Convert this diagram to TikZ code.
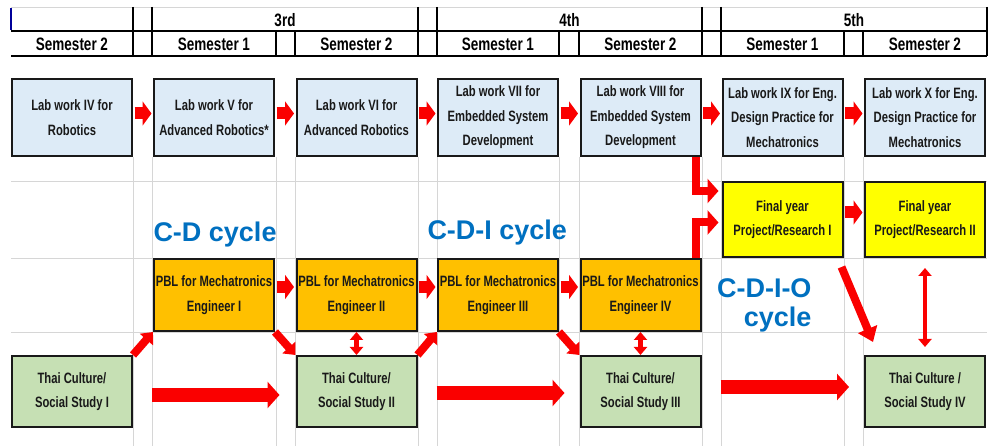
\documentclass[tikz,border=0pt]{standalone}
\usepackage{fontspec}
\setmainfont{Liberation Sans}
\newfontfamily\narrowfont[FakeStretch=0.75]{Liberation Sans}
\usepackage{tikz}
\usetikzlibrary{arrows.meta}
\usetikzlibrary{shapes}
\definecolor{labblue}{RGB}{221,235,247}
\definecolor{pblorange}{RGB}{255,192,0}
\definecolor{finalyellow}{RGB}{255,255,0}
\definecolor{thaigreen}{RGB}{198,224,180}
\definecolor{cycleblue}{RGB}{0,112,192}
\definecolor{gridgray}{RGB}{214,214,214}
\definecolor{arrowred}{RGB}{250,0,0}
\tikzstyle{course}=[rectangle, draw=black!90, line width=2pt, minimum width=120pt, inner sep=1pt, align=center, text=black!90, font=\narrowfont\bfseries\fontsize{15}{24.5}\selectfont]
\tikzstyle{labbox}=[course, fill=labblue, minimum height=77pt]
\tikzstyle{finalbox}=[course, fill=finalyellow, minimum height=75pt]
\tikzstyle{pblbox}=[course, fill=pblorange, minimum height=72pt]
\tikzstyle{thaibox}=[course, fill=thaigreen, minimum height=71pt]
\tikzstyle{headtext}=[inner sep=0pt, font=\narrowfont\bfseries\fontsize{18}{20}\selectfont]
\tikzstyle{cyclelabel}=[inner sep=0pt, text=cycleblue, font=\bfseries\fontsize{27}{29}\selectfont]
\tikzstyle{gridline}=[gridgray, line width=0.8pt]
\tikzstyle{steparrow}=[-{Triangle[width=24pt,length=9pt]}, line width=12pt, arrowred, shorten <=1.5pt, shorten >=1.5pt]
\tikzstyle{bigarrow}=[-{Triangle[width=26pt,length=12pt]}, line width=14pt, arrowred]
\tikzstyle{cornerarrow}=[-{Triangle[width=17pt,length=10pt]}, line width=8pt, arrowred]
\tikzstyle{elbowarrow}=[-{Triangle[width=24pt,length=11pt]}, line width=8pt, arrowred, shorten >=3pt]
\tikzstyle{linkarrow}=[{Triangle[width=13pt,length=8pt]}-{Triangle[width=13pt,length=8pt]}, line width=4.5pt, arrowred]
\tikzset{every picture/.style={
    line width=1
  }
}

\begin{document}
\begin{tikzpicture}[x=1pt, y=-1pt]
        \useasboundingbox (0,0) rectangle (989,446);
        % sheet grid
        \foreach \gx in {133,152,276,295,418,437,559,579,702,721,844,863}
          \draw[gridline] (\gx,157) -- (\gx,446);
        \foreach \gy in {181,258,332}
          \draw[gridline] (11,\gy) -- (987,\gy);
        % header
        \draw[gridline] (11,7) -- (987,7);
        \draw[line width=1.6pt] (11,31) -- (987,31);
        \draw[line width=2pt] (11,56) -- (987,56);
        \draw[blue!60!black, line width=1.5pt] (11,8) -- (11,30);
        \foreach \hx in {133,152,418,437,702,721,987}
          \draw[line width=1.3pt] (\hx,7) -- (\hx,31);
        \foreach \hx in {133,152,276,295,418,437,559,579,702,721,844,863,987}
          \draw[line width=1.3pt] (\hx,31) -- (\hx,56);
        \node[headtext] at (285,20.5) (year3) {3rd};
        \node[headtext] at (569.5,20.5) (year4) {4th};
        \node[headtext] at (854,20.5) (year5) {5th};
        \foreach \hx/\sem/\i in {72/2/a,214/1/b,356.5/2/c,498/1/d,640.5/2/e,782.5/1/f,925/2/g}
          \node[headtext] at (\hx,44.5) (sem\i) {Semester \sem};

        % lab work row
        \node[labbox] at (72,117.5) (lab4) {Lab work IV for\\Robotics};
        \node[labbox] at (214,117.5) (lab5) {Lab work V for\\Advanced Robotics*};
        \node[labbox] at (356.5,117.5) (lab6) {Lab work VI for\\Advanced Robotics};
        \node[labbox] at (498,117.5) (lab7) {Lab work VII for\\Embedded System\\Development};
        \node[labbox] at (640.5,117.5) (lab8) {Lab work VIII for\\Embedded System\\Development};
        \node[labbox] at (782.5,117.5) (lab9) {Lab work IX for Eng.\\Design Practice for\\Mechatronics};
        \node[labbox] at (925,117.5) (lab10) {Lab work X for Eng.\\Design Practice for\\Mechatronics};

        % final year project
        \node[finalbox] at (782.5,219.5) (final1) {Final year\\Project/Research I};
        \node[finalbox] at (925,219.5) (final2) {Final year\\Project/Research II};

        % PBL row
        \node[pblbox] at (214,295) (pbl1) {PBL for Mechatronics\\Engineer I};
        \node[pblbox] at (356.5,295) (pbl2) {PBL for Mechatronics\\Engineer II};
        \node[pblbox] at (498,295) (pbl3) {PBL for Mechatronics\\Engineer III};
        \node[pblbox] at (640.5,295) (pbl4) {PBL for Mechatronics\\Engineer IV};

        % thai culture row
        \node[thaibox] at (72,391.5) (thai1) {Thai Culture/\\Social Study I};
        \node[thaibox] at (356.5,391.5) (thai2) {Thai Culture/\\Social Study II};
        \node[thaibox] at (640.5,391.5) (thai3) {Thai Culture/\\Social Study III};
        \node[thaibox] at (925,391.5) (thai4) {Thai Culture /\\Social Study IV};

        % cycle labels
        \node[cyclelabel, anchor=west] at (153,235) (cd) {C-D cycle};
        \node[cyclelabel, anchor=west] at (427,233) (cdi) {C-D-I cycle};
        \node[cyclelabel, anchor=north east, align=right] at (812,278.5) (cdio) {C-D-I-O\\cycle};

        % arrows
        \foreach \a/\b in {lab4/lab5,lab5/lab6,lab6/lab7,lab7/lab8,lab8/lab9,lab9/lab10}
          \draw[steparrow] ([yshift=4pt]\a.east) -- ([yshift=4pt]\b.west);
        \foreach \a/\b in {pbl1/pbl2,pbl2/pbl3,pbl3/pbl4}
          \draw[steparrow] ([yshift=8pt]\a.east) -- ([yshift=8pt]\b.west);
        \draw[steparrow] ([yshift=7pt]final1.east) -- ([yshift=7pt]final2.west);

        \draw[cornerarrow] (thai1.north east) -- (pbl1.south west);
        \draw[cornerarrow] (pbl1.south east) -- (thai2.north west);
        \draw[cornerarrow] (thai2.north east) -- (pbl3.south west);
        \draw[cornerarrow] (pbl3.south east) -- (thai3.north west);

        \draw[linkarrow] (pbl2.south) -- (thai2.north);
        \draw[linkarrow] (pbl4.south) -- (thai3.north);
        \draw[linkarrow, shorten <=10pt, shorten >=8pt] (final2.south) -- (thai4.north);

        \draw[cornerarrow, -{Triangle[width=20pt,length=14pt]}] ([xshift=-2pt,yshift=-9pt]final1.south east) -- ([xshift=9pt,yshift=13pt]thai4.north west);

        \draw[bigarrow, shorten <=19pt, shorten >=16pt] ([yshift=-3.5pt]thai1.east) -- ([yshift=-3.5pt]thai2.west);
        \draw[bigarrow, shorten <=19pt, shorten >=15pt] ([yshift=-1.5pt]thai2.east) -- ([yshift=-1.5pt]thai3.west);
        \draw[bigarrow, shorten <=19pt, shorten >=15pt] ([yshift=4.5pt]thai3.east) -- ([yshift=4.5pt]thai4.west);

        \draw[elbowarrow] ([xshift=-6pt]lab8.south east) |- ([yshift=28.5pt]final1.west);
        \draw[elbowarrow] ([xshift=-6pt]pbl4.north east) |- ([yshift=-3pt]final1.west);
      \end{tikzpicture}
\end{document}
